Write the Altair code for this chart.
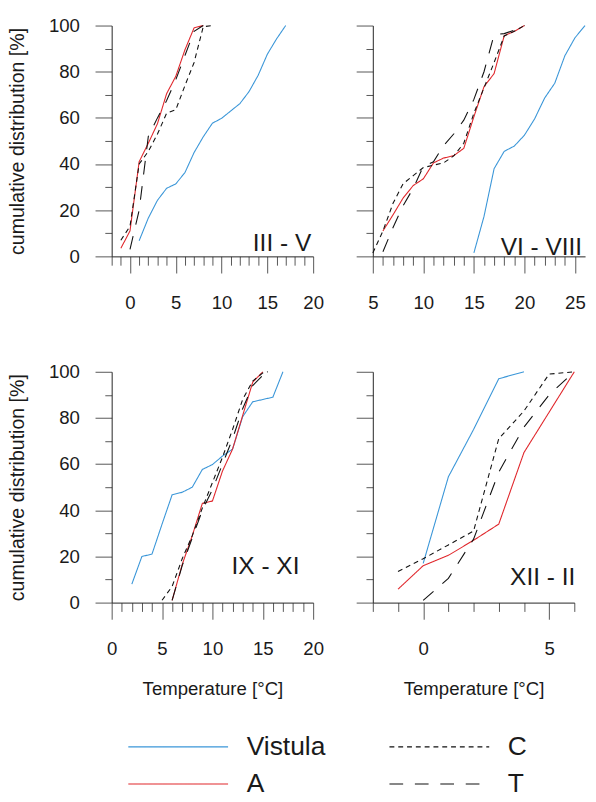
import altair as alt
import pandas as pd

FONT = "Liberation Sans"

SERIES = ["Vistula", "A", "C", "T"]
COLORS = ["#3a96d8", "#e0262b", "#111111", "#111111"]
DASHES = [[1, 0], [1, 0], [5, 4], [14, 12]]
WIDTHS = [1.1, 1.1, 1.1, 1.7]

# ---- Panel III - V ----
p1_vistula_x = list(range(1, 18))
p1_vistula_y = [6.8, 16.6, 24.3, 29.5, 31.4, 36.3, 45, 51.8, 57.7, 59.8, 63, 66.2, 71.4, 78.5, 87.6, 94.2, 100]
p1_a_x = list(range(-1, 9))
p1_a_y = [3.5, 11, 41, 49, 57.5, 70.5, 78, 89.5, 99, 100]
p1_c_x = list(range(-1, 10))
p1_c_y = [7, 13, 40, 45.5, 53, 62, 63.5, 74, 84, 99.5, 100]
p1_t_x = list(range(0, 9))
p1_t_y = [3, 20, 52, 60, 67.5, 76.5, 87, 97.5, 100]

# ---- Panel VI - VIII ----
p2_vistula_x = list(range(15, 27))
p2_vistula_y = [1.5, 17.3, 38, 45.5, 47.8, 52.5, 59.5, 68.6, 75, 86.9, 94.7, 100]
p2_a_x = list(range(6, 21))
p2_a_y = [11, 18, 25.3, 30.7, 33.6, 40.5, 42.6, 43.6, 46.8, 60.5, 73.5, 79.2, 95.6, 97.5, 100]
p2_c_x = list(range(5, 21))
p2_c_y = [1.5, 11, 23, 31.5, 35, 38.5, 39.5, 40.5, 43.5, 49, 62, 73, 84, 95.5, 97.5, 100]
p2_t_x = list(range(6, 21))
p2_t_y = [2, 12.5, 22, 29.5, 39, 41, 48, 53, 59, 68, 80, 96, 96.5, 98, 100]

# ---- Panel IX - XI ----
p3_vistula_x = list(range(2, 18))
p3_vistula_y = [8, 20, 21, 34, 46.7, 47.8, 50, 57.7, 59.8, 63.5, 66.5, 80.5, 87, 88, 89, 100]
p3_a_x = list(range(6, 16))
p3_a_y = [1, 16.5, 29, 43, 44, 57, 66.5, 81, 95.5, 100]
p3_c_x = [5, 6, 7, 8, 9, 10, 11, 12, 13, 14, 15, 15.5]
p3_c_y = [1, 7, 19, 29, 41, 52, 63, 75, 88, 96, 99.5, 100]
p3_t_x = [6, 7, 8, 9, 10, 11, 12, 13, 14, 15, 15.5]
p3_t_y = [1, 16, 28, 40, 49, 60, 71, 84, 94, 98.5, 100]

# ---- Panel XII - II ----
p4_vistula_x = [0, 1, 2, 3, 4]
p4_vistula_y = [17, 54.5, 75, 97, 100]
p4_a_x = list(range(-1, 7))
p4_a_y = [5.8, 16, 20.5, 27, 34, 65, 82.5, 100]
p4_c_x = list(range(-1, 7))
p4_c_y = [13.5, 19, 25, 31, 71, 83, 99, 100]
p4_t_x = list(range(0, 7))
p4_t_y = [1, 10.5, 27.5, 56.5, 76, 90, 100]

Y_TITLE = "cumulative distribution [%]"
X_TITLE = "Temperature [°C]"


def frame(parts):
    rows = []
    for name, xs, ys in parts:
        for xv, yv in zip(xs, ys):
            rows.append({"series": name, "x": xv, "y": yv})
    return pd.DataFrame(rows)


legend = alt.Legend(
    title=None, orient="none", legendX=16, legendY=724, columns=2,
    symbolType="stroke", symbolSize=10404, symbolStrokeWidth=1.3,
    labelFontSize=27, labelFont=FONT, labelColor="#1a1a1a", labelOffset=18,
    columnPadding=64, rowPadding=10, clipHeight=27, padding=0, labelLimit=300,
)


def panel(df, xdom, xticks, width, ylabels, xtitle, label, lx, ly):
    xaxis = alt.Axis(
        values=xticks,
        labelExpr="datum.value % 5 === 0 ? datum.label : ''",
        tickSize={"expr": "datum.value % 5 === 0 ? 17 : 9"},
        labelPadding=21, labelFlush=False, labelOverlap=False,
        title=X_TITLE if xtitle else None, titlePadding=22, titleFontSize=19,
    )
    yaxis = alt.Axis(
        values=list(range(0, 101, 10)),
        labelExpr="datum.value % 20 === 0 ? datum.label : ''",
        tickSize={"expr": "datum.value % 20 === 0 ? 17 : 7"},
        labelPadding=16, labels=ylabels, labelOverlap=False,
        title=Y_TITLE if ylabels else None, titlePadding=21, titleFontSize=20,
    )
    lines = alt.Chart(df).mark_line(strokeCap="butt").encode(
        x=alt.X("x:Q", scale=alt.Scale(domain=xdom, nice=False, zero=False), axis=xaxis),
        y=alt.Y("y:Q", scale=alt.Scale(domain=[0, 100], nice=False), axis=yaxis),
        color=alt.Color("series:N", scale=alt.Scale(domain=SERIES, range=COLORS), legend=legend),
        strokeDash=alt.StrokeDash("series:N", scale=alt.Scale(domain=SERIES, range=DASHES), legend=legend),
        strokeWidth=alt.StrokeWidth("series:N", scale=alt.Scale(domain=SERIES, range=WIDTHS), legend=None),
        order="x:Q",
    )
    txt = alt.Chart(pd.DataFrame({"label": [label]})).mark_text(
        font=FONT, fontSize=25, align="right", baseline="alphabetic", color="#1a1a1a"
    ).encode(text="label:N", x=alt.value(lx), y=alt.value(ly))
    return alt.layer(lines, txt).properties(width=width, height=236)


df1 = frame([("Vistula", p1_vistula_x, p1_vistula_y), ("A", p1_a_x, p1_a_y),
             ("C", p1_c_x, p1_c_y), ("T", p1_t_x, p1_t_y)])
df2 = frame([("Vistula", p2_vistula_x, p2_vistula_y), ("A", p2_a_x, p2_a_y),
             ("C", p2_c_x, p2_c_y), ("T", p2_t_x, p2_t_y)])
df3 = frame([("Vistula", p3_vistula_x, p3_vistula_y), ("A", p3_a_x, p3_a_y),
             ("C", p3_c_x, p3_c_y), ("T", p3_t_x, p3_t_y)])
df4 = frame([("Vistula", p4_vistula_x, p4_vistula_y), ("A", p4_a_x, p4_a_y),
             ("C", p4_c_x, p4_c_y), ("T", p4_t_x, p4_t_y)])

c1 = panel(df1, [-2, 20], list(range(-2, 21)), 206, True, False, "III - V", 204, 231)
c2 = panel(df2, [5, 26], list(range(5, 26)), 217, False, False, "VI - VIII", 214, 235)
c3 = panel(df3, [0, 20], list(range(0, 21)), 206, True, True, "IX - XI", 192, 207)
c4 = panel(df4, [-2, 6], list(range(-2, 7)), 206, False, True, "XII - II", 207, 218)

top = alt.hconcat(c1, c2, spacing=32)
bottom = alt.hconcat(c3, c4, spacing=32)

chart = alt.vconcat(top, bottom, spacing=52).properties(
    padding={"left": 0, "top": 0, "right": 0, "bottom": 0}
).configure_view(stroke=None).configure_axis(
    grid=False, domainColor="#222222", domainWidth=1, tickColor="#555555", tickWidth=1,
    labelFont=FONT, labelFontSize=19, labelColor="#1a1a1a",
    titleFont=FONT, titleColor="#1a1a1a", titleFontWeight="normal",
)

chart.save("out.html", embed_options={"renderer": "svg", "actions": False})
